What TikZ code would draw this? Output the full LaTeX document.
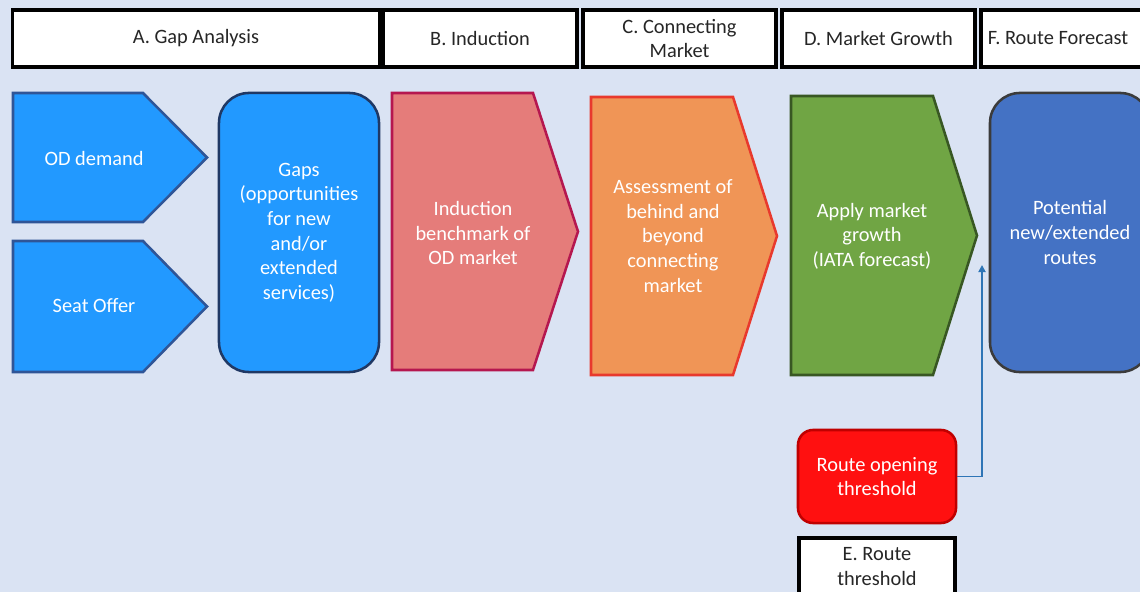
\documentclass[tikz,border=0pt]{standalone}
\usepackage{fontspec}
\setmainfont{Carlito}
\usetikzlibrary{arrows.meta, positioning}
\definecolor{paleback}{HTML}{DAE3F3}
\definecolor{skyblue}{HTML}{2299FF}
\definecolor{skyedge}{HTML}{2F5597}
\definecolor{navyedge}{HTML}{1F3864}
\definecolor{rosefill}{HTML}{E57C7A}
\definecolor{roseedge}{HTML}{B5174F}
\definecolor{orangefill}{HTML}{F09556}
\definecolor{orangeedge}{HTML}{E8392D}
\definecolor{grassfill}{HTML}{70A544}
\definecolor{grassedge}{HTML}{385723}
\definecolor{routeblue}{HTML}{4472C4}
\definecolor{routeedge}{HTML}{3B3B3B}
\definecolor{alarmred}{HTML}{FF1010}
\definecolor{alarmedge}{HTML}{C00000}
\definecolor{linkblue}{HTML}{2E75B6}
\tikzset{
  stagehead/.style={draw=black, fill=white, line width=2.2pt, minimum height=1.425cm, inner sep=0pt, align=center, text=black!85},
  headtext/.style={align=center, text=black!85},
  steptext/.style={align=center, text=white},
  roundbox/.style={line width=1.8pt, align=center, text=white, inner sep=0pt}
}

\begin{document}
\begin{tikzpicture}[x=0.025cm, y=-0.025cm, font=\fontsize{14.5}{17.5}\selectfont]
  \fill[paleback] (0,0) rectangle (1140,592);
  \useasboundingbox (0,0) rectangle (1140,592);
  \clip (0,0) rectangle (1140,592);

  % Stage headers
  \node[stagehead, minimum width=9.15cm] (headA) at (196,38.5) {A. Gap Analysis};
  \node[stagehead, minimum width=4.85cm] (headB) at (480,38.5) {B. Induction};
  \node[stagehead, minimum width=4.825cm] (headC) at (679.5,38.5) {C. Connecting\\Market};
  \node[stagehead, minimum width=4.825cm] (headD) at (878.5,38.5) {D. Market Growth};
  \node[stagehead, minimum width=4.725cm] (headF) at (1075.5,38.5) {};
  \node[headtext] (headFtext) at (1058,38.5) {F. Route Forecast};
  \node[stagehead, minimum width=3.9cm] (headE) at (877,566.5) {E. Route\\threshold};

  % Pentagon steps
  \foreach \xa/\xb/\xc/\ya/\yb/\fc/\dc in {13/143/207/93/222/skyblue/skyedge, 13/143/207/241/372/skyblue/skyedge, 392/533/578/93/370/rosefill/roseedge, 591/733/777/97/375/orangefill/orangeedge, 791/933/977/96/375/grassfill/grassedge} {
    \filldraw[fill=\fc, draw=\dc, line width=1.8pt, line join=miter] (\xa,\ya) -- (\xb,\ya) -- (\xc,{(\ya+\yb)/2}) -- (\xb,\yb) -- (\xa,\yb) -- cycle;
  }
  \node[steptext] (oddemand) at (94,158) {OD demand};
  \node[steptext] (seatoffer) at (94,306) {Seat Offer};
  \node[steptext] (induction) at (473,233) {Induction\\benchmark of\\OD market};
  \node[steptext] (connecting) at (673,236) {Assessment of\\behind and\\beyond\\connecting\\market};
  \node[steptext] (growth) at (872,236) {Apply market\\growth\\(IATA forecast)};

  % Rounded boxes
  \node[roundbox, fill=skyblue, draw=navyedge, rounded corners=0.75cm, minimum width=4cm, minimum height=6.975cm] (gaps) at (299,232.5) {Gaps\\(opportunities\\for new\\and/or\\extended\\services)};
  \node[roundbox, fill=routeblue, draw=routeedge, rounded corners=0.75cm, minimum width=4cm, minimum height=6.975cm] (potential) at (1070,232.5) {Potential\\new/extended\\routes};
  \node[roundbox, fill=alarmred, draw=alarmedge, rounded corners=0.375cm, minimum width=3.95cm, minimum height=2.325cm] (routeopen) at (877,476.5) {Route opening\\threshold};

  % Threshold link
  \coordinate (linkend) at (982,265);
  \draw[linkblue, line width=1.4pt, -{Triangle[length=5pt, width=5pt]}] (routeopen.east) -| (linkend);
\end{tikzpicture}
\end{document}
